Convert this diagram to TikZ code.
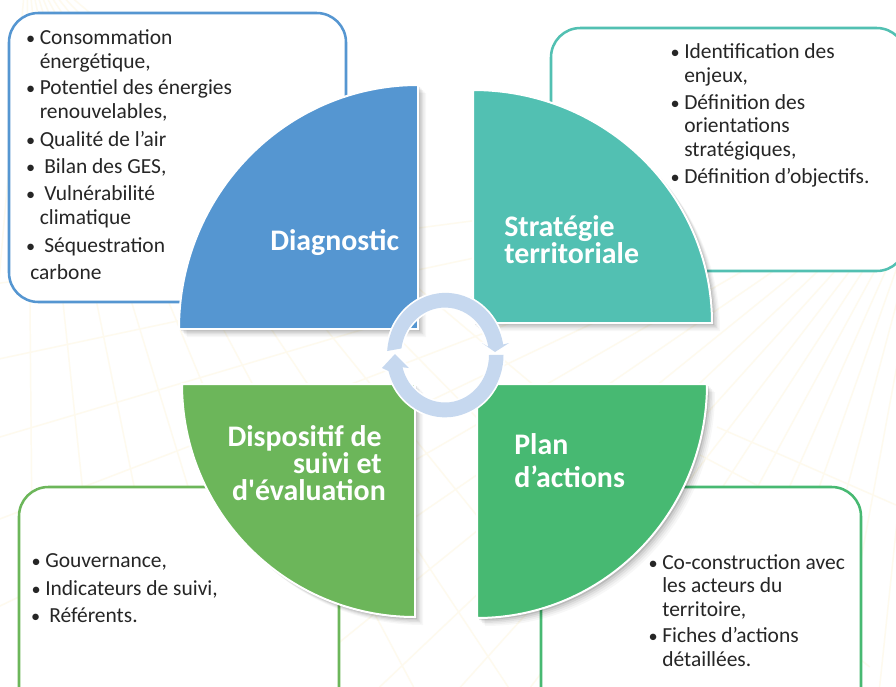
\documentclass[tikz,border=0pt]{standalone}
\usepackage{fontspec}
\setmainfont{Carlito}
\newfontfamily\plainquote{Carlito}
\usetikzlibrary{calc}
\definecolor{cblue}{HTML}{5596D1}
\definecolor{cteal}{HTML}{52C0B2}
\definecolor{cgreenr}{HTML}{47B972}
\definecolor{cgreenl}{HTML}{6CB65A}
\definecolor{cring}{HTML}{C6D8EF}
\definecolor{cray}{HTML}{FEFAEE}
\definecolor{ctext}{HTML}{262626}
\tikzset{
  x=0.75pt,y=-0.75pt,
  infobox/.style={draw=#1,line width=1.9pt,fill=white,rounded corners=22pt},
  quad/.style={fill=#1,draw=white,line width=1.5pt},
  listtext/.style={anchor=base west,inner sep=0pt,align=left,text=ctext,
    font=\fontsize{16.1}{17.4}\selectfont},
  title/.style={anchor=base west,inner sep=0pt,align=left,text=white,
    font=\fontsize{22.4}{22.4}\selectfont\bfseries},
  ringarrow/.style={fill=cring,line join=round,preaction={draw=white,line width=2.6pt,line join=round}},
  rayline/.style={cray,line width=1.1pt},
}
\newcommand{\bul}{\llap{\scalebox{0.85}{•}\hspace{3.4pt}}}
\newcommand{\bulw}{\llap{\scalebox{0.85}{•}\hspace{6.7pt}}}
\newcommand{\shadowed}[1]{%
  \foreach \d/\o in {8/0.03,6.5/0.04,5/0.05,3.5/0.07,2/0.10}{%
    \fill[black,opacity=\o,shift={(\d,\d)}] #1;
  }}
\begin{document}
\begin{tikzpicture}
\useasboundingbox (0,0) rectangle (896,686);
\clip (0,0) rectangle (896,686);
\fill[white] (0,0) rectangle (896,686);
% faint background rays
\coordinate (raysright) at (935,160);
\coordinate (raysleft) at (27,-40);
\foreach \a in {96,100.5,...,176}{
  \draw[rayline] (raysright) -- ++(\a:1100);
}
\foreach \a in {40,45.5,...,100}{
  \draw[rayline] (raysleft) -- ++(\a:1100);
}
\draw[rayline] (717,427) -- (896,505);
\draw[rayline] (700,455) -- (860,540);
% info boxes
\draw[infobox=cblue] (9,13) rectangle (346,302);
\draw[infobox=cteal] (551,28) rectangle (906,271);
\draw[infobox=cgreenl] (19,487) rectangle (339,760);
\draw[infobox=cgreenr] (541,487) rectangle (861,760);
% quadrants
\shadowed{(418,329) -- (179,329) arc[start angle=180,end angle=270,x radius=239,y radius=244] -- cycle}
\shadowed{(473,323) -- (473,90) arc[start angle=270,end angle=360,x radius=239,y radius=233] -- cycle}
\shadowed{(477,384) -- (707,384) arc[start angle=0,end angle=90,x radius=230,y radius=234] -- cycle}
\shadowed{(415,384) -- (415,617) arc[start angle=90,end angle=180,x radius=233,y radius=233] -- cycle}
\draw[quad=cblue] (418,329) -- (179,329) arc[start angle=180,end angle=270,x radius=239,y radius=244] -- cycle;
\draw[quad=cteal] (473,323) -- (473,90) arc[start angle=270,end angle=360,x radius=239,y radius=233] -- cycle;
\draw[quad=cgreenr] (477,384) -- (707,384) arc[start angle=0,end angle=90,x radius=230,y radius=234] -- cycle;
\draw[quad=cgreenl] (415,384) -- (415,617) arc[start angle=90,end angle=180,x radius=233,y radius=233] -- cycle;
% cycle arrows
\path[ringarrow] (387.2,351)
  arc[start angle=184,end angle=350,x radius=58.5,y radius=62.5]
  -- (509,343) -- (495,352) -- (482,343) -- (488.3,346.8)
  arc[start angle=350,end angle=188,x radius=44,y radius=47.5] -- cycle;
\path[ringarrow] (489,355)
  arc[start angle=0,end angle=165,x radius=44,y radius=47.5]
  -- (409,368) -- (395,354) -- (382,368) -- (388.5,371)
  arc[start angle=165,end angle=0,x radius=58.5,y radius=62.5] -- cycle;
% titles
\node[title] (diag) at (270,250) {Diagnostic};
\node[title] (strat) at (504,236) {Stratégie};
\node[title] (terr) at (504,263) {territoriale};
\node[title] (plan) at (514,454) {Plan};
\node[title] (act) at (514,487) {d’actions};
\node[title,anchor=base east] (disp1) at (382,446) {Dispositif de};
\node[title,anchor=base east] (disp2) at (382,473) {suivi et};
\node[title,anchor=base east] (disp3) at (386,500) {\plainquote d'évaluation};
% lists
\node[listtext] (b1) at (39.5,68) {\bul Consommation\\énergétique,};
\node[listtext] (b2) at (39.5,118) {\bul Potentiel des énergies\\renouvelables,};
\node[listtext] (b3) at (39.5,146) {\bul Qualité de l’air};
\node[listtext] (b4) at (44,173) {\bulw Bilan des GES,};
\node[listtext] (b5) at (39.5,224) {\bul\hspace{3.4pt}Vulnérabilité\\climatique};
\node[listtext] (b6) at (44,252) {\bulw Séquestration};
\node[listtext] (b7) at (30,279) {carbone};
\node[listtext] (t1) at (684,82) {\bul Identification des\\enjeux,};
\node[listtext] (t2) at (684,156) {\bul Définition des\\orientations\\stratégiques,};
\node[listtext] (t3) at (684,183) {\bul Définition d’objectifs.};
\node[listtext] (g1) at (45,567) {\bul Gouvernance,};
\node[listtext] (g2) at (45,595) {\bul Indicateurs de suivi,};
\node[listtext] (g3) at (49,622.5) {\bulw Référents.};
\node[listtext] (r1) at (662,616) {\bul Co-construction avec\\les acteurs du\\territoire,};
\node[listtext] (r2) at (662,666) {\bul Fiches d’actions\\détaillées.};
\end{tikzpicture}
\end{document}
